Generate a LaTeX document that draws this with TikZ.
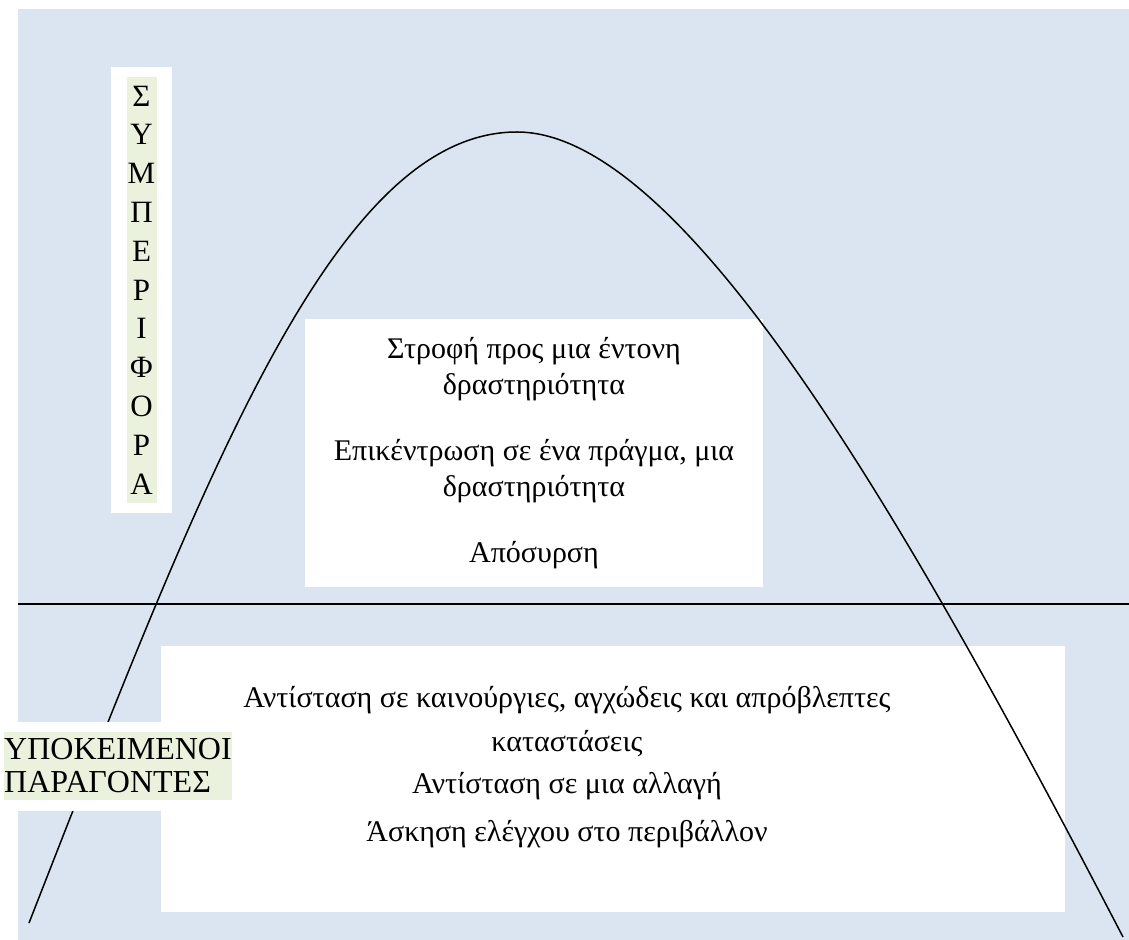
\documentclass[tikz,border=0pt]{standalone}
\usepackage{fontspec}
\setmainfont{Liberation Serif}
\usepackage{xcolor}
\usepackage{tikz}
\usetikzlibrary{positioning}
\definecolor{panelblue}{HTML}{DBE5F1}
\definecolor{labelgreen}{HTML}{EAF1DD}

\begin{document}
\begin{tikzpicture}[
    x=0.5pt, y=-0.5pt,
    every node/.style={inner sep=0pt, font=\fontsize{15}{18}\selectfont},
    whitebox/.style={fill=white, draw=none, align=center},
    greenbox/.style={fill=labelgreen, draw=none},
    axisline/.style={line width=0.8pt, black}
]
\useasboundingbox (0,0) rectangle (1129,940);
\fill[panelblue] (18,9) rectangle (1129,940);

% text boxes
\node (upper) [whitebox, minimum width=229pt, minimum height=134pt] at (534,453)
    {Στροφή προς μια έντονη\\ δραστηριότητα\\[15pt]
     Επικέντρωση σε ένα πράγμα, μια\\ δραστηριότητα\\[15pt]
     Απόσυρση};
\node (lower) [whitebox, minimum width=452pt, minimum height=133pt] at (613,779) {};
\node (lowertext) [align=center, anchor=north] at (567,686)
    {Αντίσταση σε καινούργιες, αγχώδεις και απρόβλεπτες\\[4pt] καταστάσεις\\[3pt]
     Αντίσταση σε μια αλλαγή\\[6pt]
     Άσκηση ελέγχου στο περιβάλλον};

% axis and curve
\draw[axisline] (18,604) -- (1129,604);
\draw[line width=0.75pt] (29,923) .. controls (205,473) and (335,132) .. (517,132)
    .. controls (687,132) and (915,537) .. (1123,937);

% axis labels
\node (vbox) [whitebox, minimum width=30.5pt, minimum height=223pt] at (141.5,290) {};
\node (vlabel) [greenbox, minimum width=15pt, minimum height=213pt, align=center,
    font=\fontsize{15.5}{19.4}\selectfont] at (vbox) {Σ\\Υ\\Μ\\Π\\Ε\\Ρ\\Ι\\Φ\\Ο\\Ρ\\Α};
\node (hbox) [whitebox, minimum width=120pt, minimum height=44.5pt] at (120,766.5) {};
\node (hlabel) [greenbox, minimum width=114pt, minimum height=34pt, align=left,
    font=\fontsize{16}{16.5}\selectfont] at (118,766) {ΥΠΟΚΕΙΜΕΝΟΙ\\ΠΑΡΑΓΟΝΤΕΣ};
\end{tikzpicture}
\end{document}
